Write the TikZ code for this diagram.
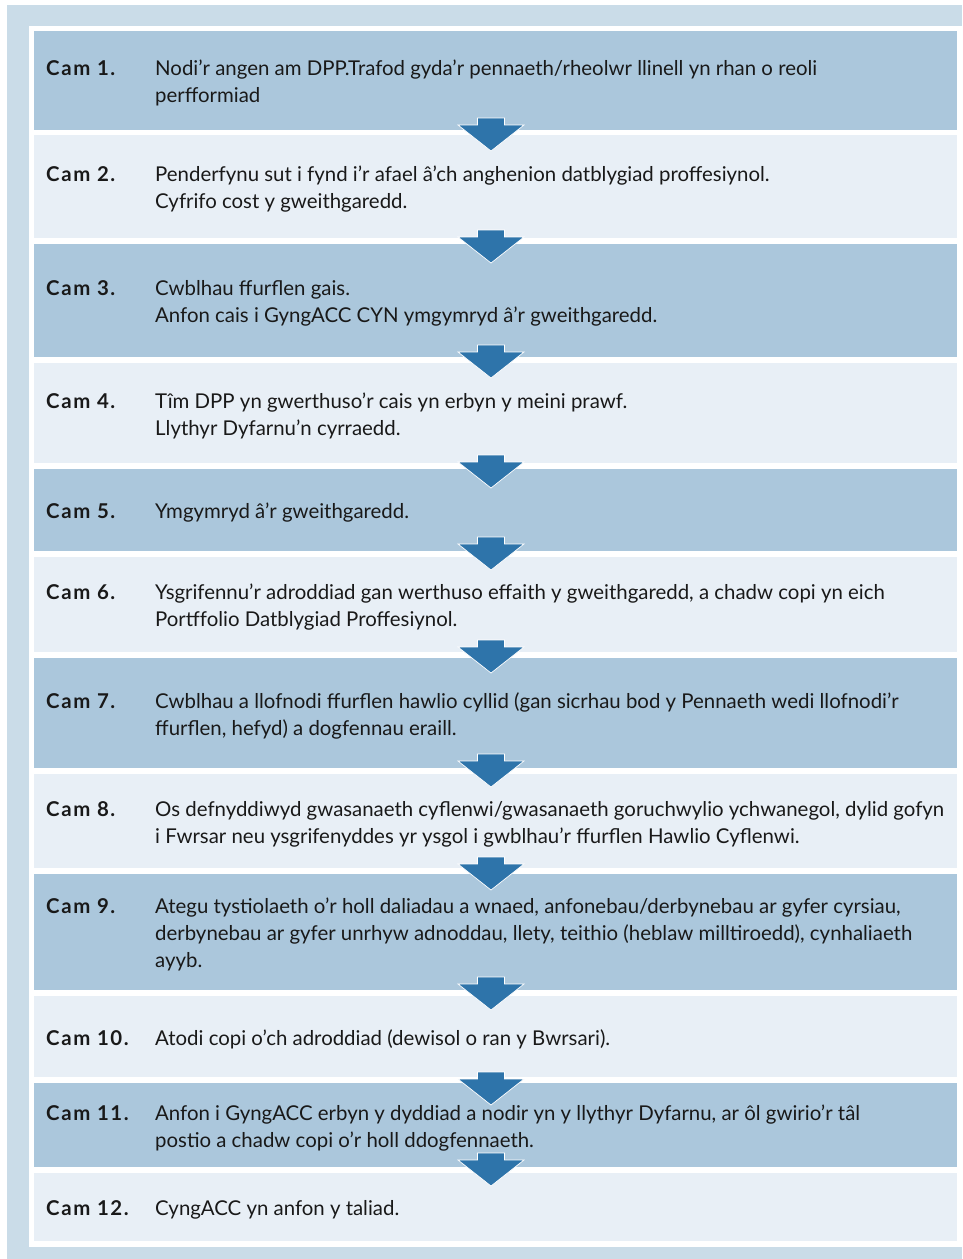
\documentclass[tikz,border=0pt]{standalone}
\usepackage{fontspec}
\setmainfont{Lato}
\newfontfamily\camfont{Lato}[LetterSpace=8]
\definecolor{framebg}{RGB}{202,220,232}
\definecolor{rowdark}{RGB}{171,199,220}
\definecolor{rowlight}{RGB}{232,239,246}
\definecolor{arrowblue}{RGB}{46,116,170}
\newcommand\camstep[2]{\parbox[t]{109pt}{\camfont\bfseries\rule{0pt}{21pt}#1}\parbox[t]{790pt}{\raggedright #2}}

\begin{document}
\begin{tikzpicture}[x=1pt, y=-1pt,
	stepbox/.style={anchor=north west, minimum width=923pt, inner xsep=12pt, inner ysep=0pt, font=\fontsize{20.4}{27}\selectfont, text=black!90},
	darkbox/.style={stepbox, fill=rowdark},
	lightbox/.style={stepbox, fill=rowlight},
	steparrow/.style={fill=arrowblue, draw=white, line width=0.7pt}]
	\useasboundingbox (0,0) rectangle (962,1259);
	\fill[framebg] (7,5) rectangle (962,1259);
	\fill[white] (29,26) rectangle (962,1247);
	% the twelve steps
	\node[darkbox, minimum height=99pt] (r1) at (34,31) {\camstep{Cam 1.}{Nodi’r angen am DPP.Trafod gyda’r pennaeth/rheolwr llinell yn rhan o reoli\\ perfformiad}};
	\node[lightbox, minimum height=103pt] (r2) at (34,135) {\camstep{Cam 2.}{Penderfynu sut i fynd i’r afael â’ch anghenion datblygiad proffesiynol.\\ Cyfrifo cost y gweithgaredd.}};
	\node[darkbox, minimum height=113pt] (r3) at (34,244) {\camstep{Cam 3.}{Cwblhau ffurflen gais.\\ Anfon cais i GyngACC CYN ymgymryd â’r gweithgaredd.}};
	\node[lightbox, minimum height=100pt] (r4) at (34,363) {\camstep{Cam 4.}{Tîm DPP yn gwerthuso’r cais yn erbyn y meini prawf.\\ Llythyr Dyfarnu’n cyrraedd.}};
	\node[darkbox, minimum height=82pt] (r5) at (34,469) {\camstep{Cam 5.}{Ymgymryd â’r gweithgaredd.}};
	\node[lightbox, minimum height=95pt] (r6) at (34,557) {\camstep{Cam 6.}{Ysgrifennu’r adroddiad gan werthuso effaith y gweithgaredd, a chadw copi yn eich\\ Portffolio Datblygiad Proffesiynol.}};
	\node[darkbox, minimum height=110pt] (r7) at (34,658) {\camstep{Cam 7.}{Cwblhau a llofnodi ffurflen hawlio cyllid (gan sicrhau bod y Pennaeth wedi llofnodi’r\\ ffurflen, hefyd) a dogfennau eraill.}};
	\node[lightbox, minimum height=94pt] (r8) at (34,774) {\camstep{Cam 8.}{Os defnyddiwyd gwasanaeth cyflenwi/gwasanaeth goruchwylio ychwanegol, dylid gofyn\\ i Fwrsar neu ysgrifenyddes yr ysgol i gwblhau’r ffurflen Hawlio Cyflenwi.}};
	\node[darkbox, minimum height=116pt] (r9) at (34,874) {\camstep{Cam 9.}{Ategu tystiolaeth o’r holl daliadau a wnaed, anfonebau/derbynebau ar gyfer cyrsiau,\\ derbynebau ar gyfer unrhyw adnoddau, llety, teithio (heblaw milltiroedd), cynhaliaeth\\ ayyb.}};
	\node[lightbox, minimum height=81pt] (r10) at (34,996) {\camstep{Cam 10.}{Atodi copi o’ch adroddiad (dewisol o ran y Bwrsari).}};
	\node[darkbox, minimum height=84pt] (r11) at (34,1083) {\camstep{Cam 11.}{Anfon i GyngACC erbyn y dyddiad a nodir yn y llythyr Dyfarnu, ar ôl gwirio’r tâl\\ postio a chadw copi o’r holl ddogfennaeth.}};
	\node[lightbox, minimum height=68pt] (r12) at (34,1173) {\camstep{Cam 12.}{CyngACC yn anfon y taliad.}};
	% arrows between the steps (tips)
	\foreach \t [count=\i] in {151,263,378,488,570,673,787,890,1010,1105,1186}{
		\coordinate (a\i) at (491,\t);
		\draw[steparrow] (a\i) -- ++(-33,-26) -- ++(19.5,0) -- ++(0,-7) -- ++(27,0) -- ++(0,7) -- ++(19.5,0) -- cycle;
	}
\end{tikzpicture}
\end{document}
